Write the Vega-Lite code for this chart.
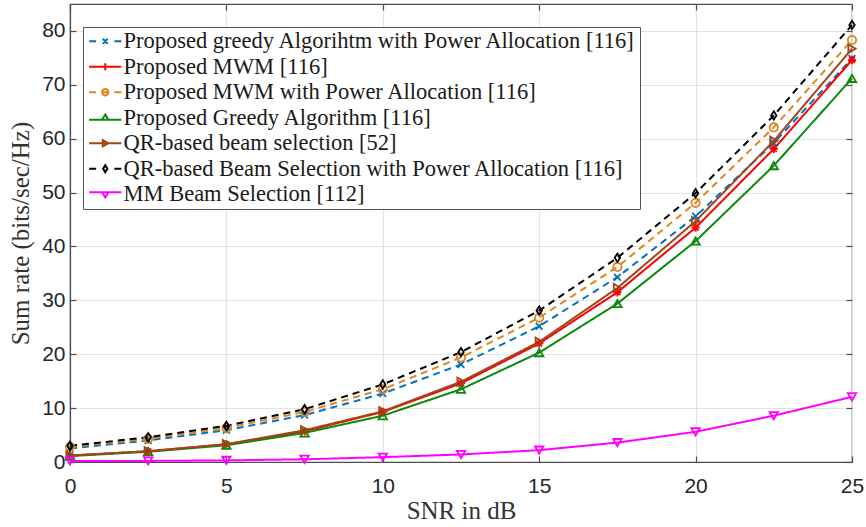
{
  "$schema": "https://vega.github.io/schema/vega-lite/v6.json",
  "width": 782,
  "height": 458,
  "autosize": {"type": "none"},
  "padding": {"left": 70, "top": 4, "right": 14, "bottom": 65},
  "background": "white",
  "config": {
    "view": {"stroke": "#4d4d4d", "strokeWidth": 1.2},
    "axis": {
      "labelFont": "Liberation Sans",
      "labelFontSize": 21,
      "labelColor": "#262626",
      "titleFont": "Liberation Serif",
      "titleFontSize": 25,
      "titleFontWeight": "normal",
      "titleColor": "#333333",
      "gridColor": "#e3e3e3",
      "gridWidth": 1.2,
      "domainColor": "#4d4d4d",
      "domainWidth": 1.2,
      "tickColor": "#4d4d4d",
      "tickSize": -6,
      "tickWidth": 1.2
    }
  },
  "data": {
    "values": [
      {"s": "Proposed greedy Algorihtm with Power Allocation [116]", "x": 0, "y": 2.5},
      {"s": "Proposed greedy Algorihtm with Power Allocation [116]", "x": 2.5, "y": 4.0},
      {"s": "Proposed greedy Algorihtm with Power Allocation [116]", "x": 5, "y": 5.9},
      {"s": "Proposed greedy Algorihtm with Power Allocation [116]", "x": 7.5, "y": 8.7},
      {"s": "Proposed greedy Algorihtm with Power Allocation [116]", "x": 10, "y": 12.7},
      {"s": "Proposed greedy Algorihtm with Power Allocation [116]", "x": 12.5, "y": 18.1},
      {"s": "Proposed greedy Algorihtm with Power Allocation [116]", "x": 15, "y": 25.2},
      {"s": "Proposed greedy Algorihtm with Power Allocation [116]", "x": 17.5, "y": 34.3},
      {"s": "Proposed greedy Algorihtm with Power Allocation [116]", "x": 20, "y": 45.6},
      {"s": "Proposed greedy Algorihtm with Power Allocation [116]", "x": 22.5, "y": 59.2},
      {"s": "Proposed greedy Algorihtm with Power Allocation [116]", "x": 25, "y": 74.9},
      {"s": "Proposed MWM [116]", "x": 0, "y": 1.2},
      {"s": "Proposed MWM [116]", "x": 2.5, "y": 2.0},
      {"s": "Proposed MWM [116]", "x": 5, "y": 3.3},
      {"s": "Proposed MWM [116]", "x": 7.5, "y": 5.7},
      {"s": "Proposed MWM [116]", "x": 10, "y": 9.3},
      {"s": "Proposed MWM [116]", "x": 12.5, "y": 14.6},
      {"s": "Proposed MWM [116]", "x": 15, "y": 22.0},
      {"s": "Proposed MWM [116]", "x": 17.5, "y": 31.5},
      {"s": "Proposed MWM [116]", "x": 20, "y": 43.5},
      {"s": "Proposed MWM [116]", "x": 22.5, "y": 58.1},
      {"s": "Proposed MWM [116]", "x": 25, "y": 74.6},
      {"s": "Proposed MWM with Power Allocation [116]", "x": 0, "y": 2.8},
      {"s": "Proposed MWM with Power Allocation [116]", "x": 2.5, "y": 4.3},
      {"s": "Proposed MWM with Power Allocation [116]", "x": 5, "y": 6.3},
      {"s": "Proposed MWM with Power Allocation [116]", "x": 7.5, "y": 9.3},
      {"s": "Proposed MWM with Power Allocation [116]", "x": 10, "y": 13.5},
      {"s": "Proposed MWM with Power Allocation [116]", "x": 12.5, "y": 19.4},
      {"s": "Proposed MWM with Power Allocation [116]", "x": 15, "y": 26.8},
      {"s": "Proposed MWM with Power Allocation [116]", "x": 17.5, "y": 36.2},
      {"s": "Proposed MWM with Power Allocation [116]", "x": 20, "y": 48.1},
      {"s": "Proposed MWM with Power Allocation [116]", "x": 22.5, "y": 62.1},
      {"s": "Proposed MWM with Power Allocation [116]", "x": 25, "y": 78.3},
      {"s": "Proposed Greedy Algorithm [116]", "x": 0, "y": 1.1},
      {"s": "Proposed Greedy Algorithm [116]", "x": 2.5, "y": 1.9},
      {"s": "Proposed Greedy Algorithm [116]", "x": 5, "y": 3.1},
      {"s": "Proposed Greedy Algorithm [116]", "x": 7.5, "y": 5.4},
      {"s": "Proposed Greedy Algorithm [116]", "x": 10, "y": 8.6},
      {"s": "Proposed Greedy Algorithm [116]", "x": 12.5, "y": 13.5},
      {"s": "Proposed Greedy Algorithm [116]", "x": 15, "y": 20.3},
      {"s": "Proposed Greedy Algorithm [116]", "x": 17.5, "y": 29.4},
      {"s": "Proposed Greedy Algorithm [116]", "x": 20, "y": 41.0},
      {"s": "Proposed Greedy Algorithm [116]", "x": 22.5, "y": 55.0},
      {"s": "Proposed Greedy Algorithm [116]", "x": 25, "y": 71.2},
      {"s": "QR-based beam selection [52]", "x": 0, "y": 1.2},
      {"s": "QR-based beam selection [52]", "x": 2.5, "y": 2.0},
      {"s": "QR-based beam selection [52]", "x": 5, "y": 3.3},
      {"s": "QR-based beam selection [52]", "x": 7.5, "y": 5.9},
      {"s": "QR-based beam selection [52]", "x": 10, "y": 9.4},
      {"s": "QR-based beam selection [52]", "x": 12.5, "y": 14.9},
      {"s": "QR-based beam selection [52]", "x": 15, "y": 22.3},
      {"s": "QR-based beam selection [52]", "x": 17.5, "y": 32.3},
      {"s": "QR-based beam selection [52]", "x": 20, "y": 44.7},
      {"s": "QR-based beam selection [52]", "x": 22.5, "y": 59.6},
      {"s": "QR-based beam selection [52]", "x": 25, "y": 76.7},
      {"s": "QR-based Beam Selection with Power Allocation [116]", "x": 0, "y": 3.0},
      {"s": "QR-based Beam Selection with Power Allocation [116]", "x": 2.5, "y": 4.6},
      {"s": "QR-based Beam Selection with Power Allocation [116]", "x": 5, "y": 6.7},
      {"s": "QR-based Beam Selection with Power Allocation [116]", "x": 7.5, "y": 9.8},
      {"s": "QR-based Beam Selection with Power Allocation [116]", "x": 10, "y": 14.4},
      {"s": "QR-based Beam Selection with Power Allocation [116]", "x": 12.5, "y": 20.4},
      {"s": "QR-based Beam Selection with Power Allocation [116]", "x": 15, "y": 28.1},
      {"s": "QR-based Beam Selection with Power Allocation [116]", "x": 17.5, "y": 37.9},
      {"s": "QR-based Beam Selection with Power Allocation [116]", "x": 20, "y": 49.9},
      {"s": "QR-based Beam Selection with Power Allocation [116]", "x": 22.5, "y": 64.3},
      {"s": "QR-based Beam Selection with Power Allocation [116]", "x": 25, "y": 81.1},
      {"s": "MM Beam Selection [112]", "x": 0, "y": 0.2},
      {"s": "MM Beam Selection [112]", "x": 2.5, "y": 0.2},
      {"s": "MM Beam Selection [112]", "x": 5, "y": 0.3},
      {"s": "MM Beam Selection [112]", "x": 7.5, "y": 0.5},
      {"s": "MM Beam Selection [112]", "x": 10, "y": 0.9},
      {"s": "MM Beam Selection [112]", "x": 12.5, "y": 1.4},
      {"s": "MM Beam Selection [112]", "x": 15, "y": 2.2},
      {"s": "MM Beam Selection [112]", "x": 17.5, "y": 3.6},
      {"s": "MM Beam Selection [112]", "x": 20, "y": 5.6},
      {"s": "MM Beam Selection [112]", "x": 22.5, "y": 8.6},
      {"s": "MM Beam Selection [112]", "x": 25, "y": 12.1}
    ]
  },
  "resolve": {
    "scale": {"shape": "independent", "color": "independent"},
    "axis": {"x": "independent", "y": "independent"}
  },
  "layer": [
    {
      "mark": {"type": "line", "strokeWidth": 2},
      "encoding": {
        "x": {
          "field": "x", "type": "quantitative",
          "scale": {"domain": [0, 25], "nice": false, "zero": false},
          "axis": {"title": "SNR in dB", "values": [0, 5, 10, 15, 20, 25], "labelPadding": 19, "titlePadding": 2, "labelFlush": false}
        },
        "y": {
          "field": "y", "type": "quantitative",
          "scale": {"domain": [0, 85], "nice": false},
          "axis": {"title": "Sum rate (bits/sec/Hz)", "values": [0, 10, 20, 30, 40, 50, 60, 70, 80], "labelPadding": 11, "titlePadding": 8}
        },
        "color": {
          "field": "s", "type": "nominal", "legend": null,
          "scale": {
            "domain": [
              "Proposed greedy Algorihtm with Power Allocation [116]",
              "Proposed MWM [116]",
              "Proposed MWM with Power Allocation [116]",
              "Proposed Greedy Algorithm [116]",
              "QR-based beam selection [52]",
              "QR-based Beam Selection with Power Allocation [116]",
              "MM Beam Selection [112]"
            ],
            "range": ["#0072BD", "#FF0000", "#E0861E", "#0A8A0A", "#A0461A", "#000000", "#FF00FF"]
          }
        },
        "strokeDash": {
          "field": "s", "type": "nominal", "legend": null,
          "scale": {
            "domain": [
              "Proposed greedy Algorihtm with Power Allocation [116]",
              "Proposed MWM [116]",
              "Proposed MWM with Power Allocation [116]",
              "Proposed Greedy Algorithm [116]",
              "QR-based beam selection [52]",
              "QR-based Beam Selection with Power Allocation [116]",
              "MM Beam Selection [112]"
            ],
            "range": [[7, 5], [1, 0], [7, 5], [1, 0], [1, 0], [7, 5], [1, 0]]
          }
        }
      }
    },
    {
      "mark": {"type": "point", "filled": false, "strokeWidth": 1.8, "size": 70, "opacity": 1},
      "encoding": {
        "x": {"field": "x", "type": "quantitative", "axis": null},
        "y": {"field": "y", "type": "quantitative", "axis": null},
        "color": {
          "field": "s", "type": "nominal", "legend": null,
          "scale": {
            "domain": [
              "Proposed greedy Algorihtm with Power Allocation [116]",
              "Proposed MWM [116]",
              "Proposed MWM with Power Allocation [116]",
              "Proposed Greedy Algorithm [116]",
              "QR-based beam selection [52]",
              "QR-based Beam Selection with Power Allocation [116]",
              "MM Beam Selection [112]"
            ],
            "range": ["#0072BD", "#FF0000", "#E0861E", "#0A8A0A", "#A0461A", "#000000", "#FF00FF"]
          }
        },
        "shape": {
          "field": "s", "type": "nominal", "legend": null,
          "scale": {
            "domain": [
              "Proposed greedy Algorihtm with Power Allocation [116]",
              "Proposed MWM [116]",
              "Proposed MWM with Power Allocation [116]",
              "Proposed Greedy Algorithm [116]",
              "QR-based beam selection [52]",
              "QR-based Beam Selection with Power Allocation [116]",
              "MM Beam Selection [112]"
            ],
            "range": [
              "M-0.8,-0.8L0.8,0.8M-0.8,0.8L0.8,-0.8",
              "M-1,0H1M0,-1V1M-0.7,-0.7L0.7,0.7M-0.7,0.7L0.7,-0.7",
              "circle",
              "triangle-up",
              "triangle-right",
              "M0,-1L0.65,0L0,1L-0.65,0Z",
              "triangle-down"
            ]
          }
        }
      }
    },
    {
      "mark": {"type": "point", "filled": false, "opacity": 0},
      "encoding": {
        "x": {"field": "x", "type": "quantitative", "axis": {"orient": "top", "values": [0, 5, 10, 15, 20, 25], "labels": false, "grid": false, "domain": false, "title": null}},
        "y": {"field": "y", "type": "quantitative", "axis": {"orient": "right", "values": [0, 10, 20, 30, 40, 50, 60, 70, 80], "labels": false, "grid": false, "domain": false, "title": null}},
        "color": {
          "field": "s", "type": "nominal",
          "scale": {
            "domain": [
              "Proposed greedy Algorihtm with Power Allocation [116]",
              "Proposed MWM [116]",
              "Proposed MWM with Power Allocation [116]",
              "Proposed Greedy Algorithm [116]",
              "QR-based beam selection [52]",
              "QR-based Beam Selection with Power Allocation [116]",
              "MM Beam Selection [112]"
            ],
            "range": ["#0072BD", "#FF0000", "#E0861E", "#0A8A0A", "#A0461A", "#000000", "#FF00FF"]
          }
        },
        "shape": {
          "field": "s", "type": "nominal",
          "scale": {
            "domain": [
              "Proposed greedy Algorihtm with Power Allocation [116]",
              "Proposed MWM [116]",
              "Proposed MWM with Power Allocation [116]",
              "Proposed Greedy Algorithm [116]",
              "QR-based beam selection [52]",
              "QR-based Beam Selection with Power Allocation [116]",
              "MM Beam Selection [112]"
            ],
            "range": [
              "M-4.6,0H-2.6M2.6,0H4.6M-0.7,-0.7L0.7,0.7M-0.7,0.7L0.7,-0.7",
              "M-4.6,0H4.6M0,-1V1",
              "M-4.6,0H-2.6M2.6,0H4.6M-0.9,0A0.9,0.9,0,1,0,0.9,0A0.9,0.9,0,1,0,-0.9,0M-0.9,0H0.9",
              "M-4.6,0.6H4.6M0,-0.9L0.9,0.6L-0.9,0.6Z",
              "M-4.6,0H4.6M-0.7,-0.9L0.9,0L-0.7,0.9Z",
              "M-4.6,0H-2.6M2.6,0H4.6M0,-1L0.6,0L0,1L-0.6,0Z",
              "M-4.6,-0.6H4.6M0,0.9L0.9,-0.6L-0.9,-0.6Z"
            ]
          },
          "legend": {
            "title": null,
            "orient": "none",
            "legendX": 13,
            "legendY": 23,
            "fillColor": "white",
            "strokeColor": "#555555",
            "padding": 3,
            "symbolSize": 49,
            "symbolOffset": 8,
            "symbolStrokeWidth": 2,
            "symbolFillColor": "transparent",
            "symbolOpacity": 1,
            "labelOffset": 7,
            "labelFont": "Liberation Serif",
            "labelFontSize": 22.5,
            "labelColor": "#1a1a1a",
            "labelLimit": 700,
            "rowPadding": 2.5
          }
        }
      }
    }
  ]
}
